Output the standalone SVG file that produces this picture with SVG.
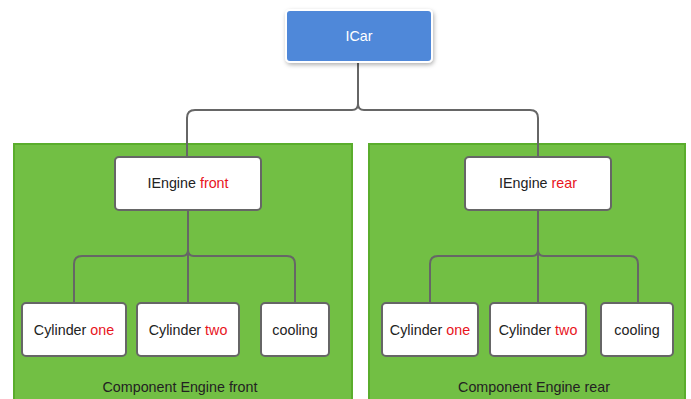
<svg xmlns="http://www.w3.org/2000/svg" width="691" height="399" viewBox="0 0 691 399">
  <defs>
    <filter id="shadow" x="-20%" y="-20%" width="140%" height="160%">
      <feDropShadow dx="1" dy="2" stdDeviation="2" flood-color="#000" flood-opacity="0.3"/>
    </filter>
    <style>
      text { font-family: "Liberation Sans", Arial, sans-serif; font-size: 14.3px; fill: #222; text-anchor: middle; }
      .hl { fill: #e8141c; }
      .box { fill: #fff; stroke: #666; stroke-width: 2; }
      .group { fill: #72bf44; stroke: #5aad2c; stroke-width: 2; }
      .link { fill: none; stroke: #666; stroke-width: 2; }
    </style>
  </defs>
  <rect width="691" height="399" fill="#fff"/>

  <!-- component containers -->
  <g id="component-front">
    <rect class="group" x="14" y="144" width="338" height="262"/>
    <text x="180" y="392">Component Engine front</text>
  </g>
  <g id="component-rear">
    <rect class="group" x="369" y="144" width="316" height="262"/>
    <text x="534" y="392">Component Engine rear</text>
  </g>

  <!-- connectors -->
  <g id="connectors">
    <path class="link" d="M358,62 L358,104 Q358,110 352,110 L195,110 Q187,110 187,118 L187,157"/>
    <path class="link" d="M358,104 Q358,110 364,110 L530,110 Q538,110 538,118 L538,157"/>
    <path class="link" d="M188,210 L188,250 Q188,256 182,256 L82,256 Q74,256 74,264 L74,303"/>
    <path class="link" d="M188,250 Q188,256 194,256 L287,256 Q295,256 295,264 L295,303"/>
    <path class="link" d="M188,250 L188,303"/>
    <path class="link" d="M538,210 L538,250 Q538,256 532,256 L438,256 Q430,256 430,264 L430,303"/>
    <path class="link" d="M538,250 Q538,256 544,256 L630,256 Q638,256 638,264 L638,303"/>
    <path class="link" d="M538,250 L538,303"/>
  </g>

  <g id="icar">
    <rect x="286" y="10" width="146" height="52" rx="4" fill="#4f88d9" stroke="#fff" stroke-width="2" filter="url(#shadow)"/>
    <text x="359" y="41" style="fill:#fff">ICar</text>
  </g>

  <g id="iengine-front">
    <rect class="box" x="115" y="157" width="146" height="53" rx="4"/>
    <text x="188" y="188">IEngine <tspan class="hl">front</tspan></text>
  </g>
  <g id="cylinder-one-front">
    <rect class="box" x="22" y="303" width="104" height="53" rx="4"/>
    <text x="74" y="335">Cylinder <tspan class="hl">one</tspan></text>
  </g>
  <g id="cylinder-two-front">
    <rect class="box" x="137" y="303" width="102" height="53" rx="4"/>
    <text x="188" y="335">Cylinder <tspan class="hl">two</tspan></text>
  </g>
  <g id="cooling-front">
    <rect class="box" x="261" y="303" width="68" height="53" rx="4"/>
    <text x="295" y="335">cooling</text>
  </g>

  <g id="iengine-rear">
    <rect class="box" x="465" y="157" width="146" height="53" rx="4"/>
    <text x="538" y="188">IEngine <tspan class="hl">rear</tspan></text>
  </g>
  <g id="cylinder-one-rear">
    <rect class="box" x="382" y="303" width="96" height="53" rx="4"/>
    <text x="430" y="335">Cylinder <tspan class="hl">one</tspan></text>
  </g>
  <g id="cylinder-two-rear">
    <rect class="box" x="490" y="303" width="96" height="53" rx="4"/>
    <text x="538" y="335">Cylinder <tspan class="hl">two</tspan></text>
  </g>
  <g id="cooling-rear">
    <rect class="box" x="601" y="303" width="72" height="53" rx="4"/>
    <text x="637" y="335">cooling</text>
  </g>
</svg>
